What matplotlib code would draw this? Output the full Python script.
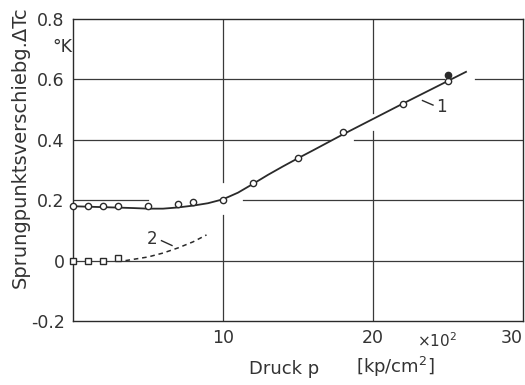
import matplotlib.pyplot as plt

# Kurve 1: Messpunkte (offene Kreise), Druck in 10^2 kp/cm^2, dTc in K
p1 = [0, 1, 2, 3, 5, 7, 8, 10, 12, 15, 18, 22, 25]
dT1 = [0.18, 0.18, 0.18, 0.18, 0.18, 0.187, 0.193, 0.2, 0.256, 0.34, 0.426, 0.52, 0.595]
# gefuellter Punkt
p1_full = [25]
dT1_full = [0.615]
# ausgeglichene Kurve 1
p1_fit = [0, 2, 4, 5, 6, 7, 8, 9, 10, 11, 12, 13, 14, 15, 16, 18, 20, 22, 24, 26.2]
dT1_fit = [0.18, 0.177, 0.174, 0.172, 0.172, 0.176, 0.182, 0.19, 0.203, 0.225,
           0.254, 0.284, 0.312, 0.339, 0.365, 0.418, 0.469, 0.52, 0.57, 0.625]
# Kurve 2
p2 = [0, 1, 2, 3]
dT2 = [0, 0, 0, 0.01]
p2_fit = [3.5, 5, 6, 7, 8, 8.9]
dT2_fit = [0.0, 0.012, 0.025, 0.042, 0.062, 0.085]

xticks = [10, 20, 30]
yticks = [-0.2, 0, 0.2, 0.4, 0.6, 0.8]
ytick_labels = ['-0.2', '0', '0.2', '0.4', '0.6', '0.8']

ink = '#2a2a2a'
txt = '#333333'
plt.rcParams['font.family'] = ['DejaVu Sans']

fig = plt.figure(figsize=(5.25, 3.85), dpi=100)
ax = fig.add_axes([73/525, 1-321/385, 450/525, 302/385])
ax.set_xlim(0, 30)
ax.set_ylim(-0.2, 0.8)

# Gitter mit Unterbrechungen wie im Original
hgrid = {0.6: [(0, 24.7), (26.8, 30)], 0.4: [(0, 17.1), (18.7, 30)],
         0.2: [(0, 5), (11.3, 30)], 0.0: [(0, 30)]}
vgrid = {10: [(-0.2, 0.15), (0.26, 0.8)], 20: [(-0.2, 0.43), (0.49, 0.8)]}
for y, segs in hgrid.items():
	for a, b in segs:
		ax.plot([a, b], [y, y], color='#3a3a3a', lw=0.9, zorder=1)
for x, segs in vgrid.items():
	for a, b in segs:
		ax.plot([x, x], [a, b], color='#3a3a3a', lw=0.9, zorder=1)

ax.plot(p1_fit, dT1_fit, color=ink, lw=1.3, zorder=2)
ax.plot(p1, dT1, 'o', ms=4.5, mfc='white', mec=ink, mew=1.0, zorder=3, clip_on=False)
ax.plot(p1_full, dT1_full, 'o', ms=4.5, color=ink, zorder=3)
ax.plot(p2_fit, dT2_fit, color=ink, lw=1.1, ls=(0, (3, 2.5)), zorder=2)
ax.plot(p2, dT2, 's', ms=4, mfc='white', mec=ink, mew=1.0, zorder=3, clip_on=False)

# Kurvenbezeichnungen
ax.plot([23.3, 24.0], [0.53, 0.515], color=ink, lw=1.0)
ax.text(24.2, 0.51, '1', fontsize=12, color=txt, va='center', ha='left')
ax.plot([5.9, 6.6], [0.066, 0.05], color=ink, lw=1.0)
ax.text(5.3, 0.07, '2', fontsize=12, color=txt, va='center', ha='center')

for s in ax.spines.values():
	s.set_color(ink)
	s.set_linewidth(1.0)

ax.set_xticks(xticks)
ax.set_xticklabels([str(t) for t in xticks])
ax.set_yticks(yticks)
ax.set_yticklabels(ytick_labels)
ax.tick_params(length=0, labelsize=12.5, colors=txt, pad=6)
ax.get_xticklabels()[-1].set_horizontalalignment('right')

fig.text(437/525, 1-341/385, '×10$^2$', fontsize=11, color=txt, ha='center', va='center')
fig.text(62/525, 1-47/385, '°K', fontsize=12.5, color=txt, ha='center', va='center')
fig.text(284/525, 1-369/385, 'Druck p', fontsize=13, color=txt, ha='center', va='center')
fig.text(395/525, 1-367/385, '[kp/cm$^2$]', fontsize=13, color=txt, ha='center', va='center')
fig.text(20/525, 1-147/385, 'Sprungpunktsverschiebg.ΔTc', fontsize=14, color=txt,
         rotation=90, ha='center', va='center')

fig.savefig('out.png', dpi=100, facecolor='white')
